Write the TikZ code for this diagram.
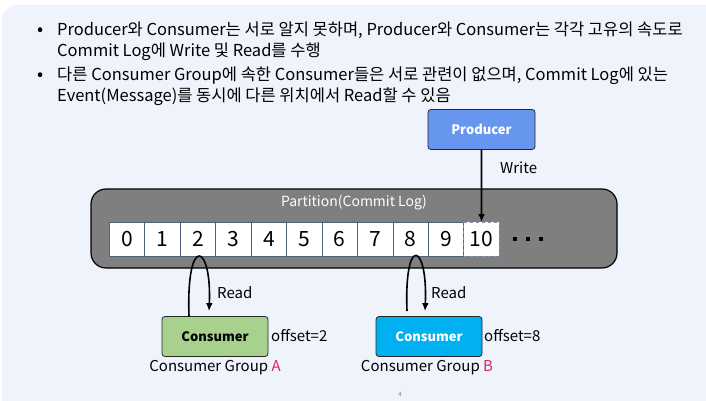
\documentclass[tikz,border=0pt]{standalone}
\usepackage{fontspec}
\setmainfont{Noto Sans CJK KR}
\usepackage{tikz}
\usetikzlibrary{arrows.meta,positioning}
\definecolor{slidebg}{RGB}{239,243,252}
\definecolor{prodblue}{RGB}{102,150,238}
\definecolor{consgreen}{RGB}{169,209,142}
\definecolor{consblue}{RGB}{0,176,240}
\definecolor{partgray}{RGB}{127,127,127}
\definecolor{cellline}{RGB}{80,98,128}
\definecolor{grpred}{RGB}{226,36,92}

\begin{document}
\begin{tikzpicture}[
  x=1pt, y=-1pt,
  node distance=0pt,
  txt/.style={anchor=north west, inner sep=0pt, align=left, font=\fontsize{16.5}{21}\selectfont},
  dot/.style={inner sep=0pt, font=\fontsize{18}{18}\selectfont},
  box/.style={draw=black!85, rounded corners=3pt, line width=0.8pt, minimum height=40pt, font=\fontsize{13}{13}\selectfont\bfseries},
  cell/.style={draw=cellline, fill=white, line width=0.8pt, outer sep=0pt, minimum width=35.45pt, minimum height=34pt, inner sep=0pt, font=\fontsize{21}{21}\selectfont},
  lbl/.style={inner sep=0pt, font=\fontsize{15}{15}\selectfont},
  arr/.style={-{Latex[length=2.8mm,width=2.4mm]}, line width=1.6pt}
]
\useasboundingbox (0,0) rectangle (706,401);
\fill[slidebg, rounded corners=16pt] (2,5) rectangle (730,430);

% bullets
\node[dot] (d1) at (41,32) {•};
\node[txt] (t1) at (57,22) {Producer와 Consumer는 서로 알지 못하며, Producer와 Consumer는 각각 고유의 속도로\\Commit Log에 Write 및 Read를 수행};
\node[dot] (d2) at (41,77) {•};
\node[txt] (t2) at (57,67) {다른 Consumer Group에 속한 Consumer들은 서로 관련이 없으며, Commit Log에 있는\\Event(Message)를 동시에 다른 위치에서 Read할 수 있음};

% partition
\draw[fill=partgray, line width=1.2pt, rounded corners=15pt] (91,189) rectangle (617,268);
\node[lbl, font=\fontsize{14}{14}\selectfont, text=white] (ptitle) at (354,203) {Partition(Commit Log)};
\node[cell, anchor=west] (c0) at (109.3,239) {0};
\foreach \i [count=\j from 0] in {1,...,9} {
  \node[cell, right=of c\j] (c\i) {\i};
}
\node[cell, right=of c9, draw=cellline!70, dashed] (c10) {10};
\node[inner sep=0pt, right=14pt of c10] (more) {\rule{4pt}{4pt}\hspace{9pt}\rule{4pt}{4pt}\hspace{9pt}\rule{4pt}{4pt}};

% producer
\node[box, fill=prodblue, text=white, minimum width=107pt] (prod) at (481.5,129.5) {Producer};
\draw[arr] (prod) -- (c10.north);
\node[lbl, anchor=west] (write) at (500,168) {Write};

% consumers
\node[box, fill=consgreen, minimum width=106pt] (consA) at (215,336.5) {Consumer};
\node[lbl, anchor=west] (offA) at (271,336) {offset=2};
\node[lbl] (grpA) at (215,368) {Consumer Group \textcolor{grpred}{A}};
\node[box, fill=consblue, text=white, minimum width=106pt] (consB) at (429,336.5) {Consumer};
\node[lbl, anchor=west] (offB) at (484,336) {offset=8};
\node[lbl] (grpB) at (427,368) {Consumer Group \textcolor{grpred}{B}};

\draw[arr] ([xshift=-26pt]consA.north) .. controls (186,233) and (212,243) .. ([xshift=-6pt,yshift=5pt]consA.north);
\node[lbl, anchor=west] (readA) at (217,293) {Read};
\draw[arr] ([xshift=-22pt,yshift=5pt]consB.north) .. controls (404,233) and (428,243) .. ([xshift=-4pt,yshift=5pt]consB.north);
\node[lbl, anchor=west] (readB) at (431,293) {Read};

\node[inner sep=0pt, text=black!50, font=\fontsize{6}{6}\selectfont] (pg) at (400,394) {4};
\end{tikzpicture}
\end{document}
